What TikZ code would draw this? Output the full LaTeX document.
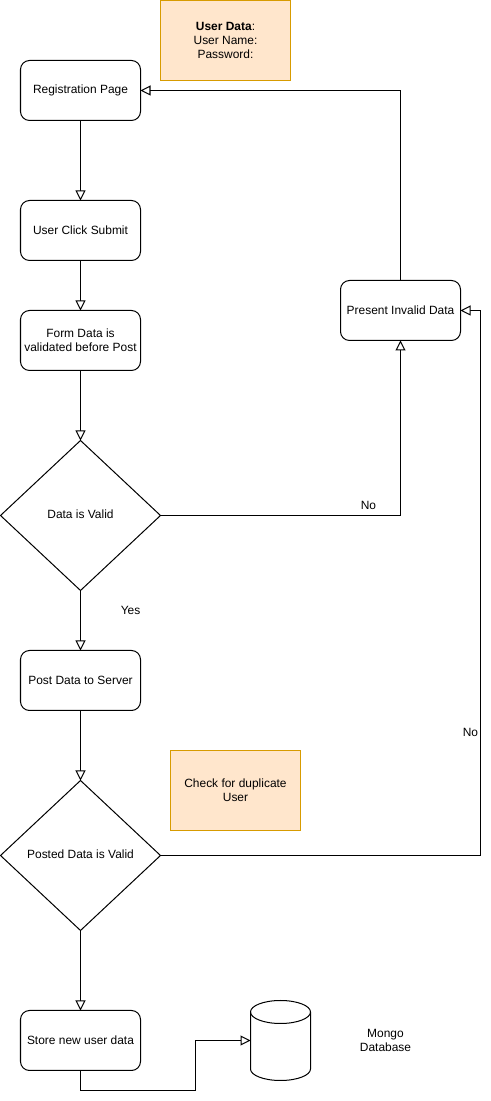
\documentclass[tikz,border=0pt]{standalone}
\usepackage{fontspec}
\setmainfont{Liberation Sans}
\usepackage{tikz}
\usetikzlibrary{shapes.geometric,arrows.meta}
\definecolor{noteFill}{HTML}{FFE6CC}
\definecolor{noteDraw}{HTML}{D79B00}
\tikzstyle{tsText} = [
    text=black,
    font=\fontsize{6.8}{8}\selectfont,
    align=center,
    inner sep=0pt,
    outer sep=0pt
]
\tikzstyle{tsRoundedRectangle} = [
    rectangle,
    tsText,
    draw=black,
    line width=0.57pt,
    rounded corners=0.18cm,
    minimum width=2.4cm,
    minimum height=1.2cm
]
\tikzstyle{tsDiamond} = [
    diamond,
    tsText,
    draw=black,
    line width=0.57pt,
    minimum width=3.2cm,
    minimum height=3cm
]
\tikzstyle{tsNote} = [
    rectangle,
    tsText,
    draw=noteDraw,
    fill=noteFill,
    line width=0.57pt,
    minimum width=2.6cm,
    minimum height=1.6cm
]
\tikzstyle{tsDatabase} = [
    rectangle,
    tsText,
    minimum width=1.2cm,
    minimum height=1.6cm
]
\tikzstyle{tsLine} = [
    line width=0.57pt,
    draw=black
]
\tikzstyle{tsArrow} = [
    tsLine,
    -{Triangle[open,fill=white,length=0.2cm,width=0.2cm]}
]

\begin{document}
\begin{tikzpicture}
        \useasboundingbox (-0.01,0.01) rectangle (9.81,22.03);

        % Main flow
        \node[tsRoundedRectangle] (reg) at (1.6,20.22) {Registration Page};
        \node[tsRoundedRectangle] (submit) at (1.6,17.42) {User Click Submit};
        \node[tsRoundedRectangle] (form) at (1.6,15.22) {Form Data is\\validated before Post};
        \node[tsDiamond] (valid) at (1.6,11.72) {\raisebox{1pt}{Data is Valid}};
        \node[tsRoundedRectangle] (post) at (1.6,8.42) {Post Data to Server};
        \node[tsDiamond] (posted) at (1.6,4.92) {\raisebox{1pt}{Posted Data is Valid}};
        \node[tsRoundedRectangle] (store) at (1.6,1.22) {Store new user data};
        \node[tsRoundedRectangle] (invalid) at (8,15.82) {Present Invalid Data};

        % Notes
        \node[tsNote] (userdata) at (4.5,21.22) {\textbf{User Data}:\\User Name:\\Password:};
        \node[tsNote] (duplicate) at (4.7,6.22) {Check for duplicate\\User};

        % Database
        \node[tsDatabase] (db) at (5.6,1.22) {};
        \draw[tsLine] ([yshift=-0.23cm]db.north west)
            arc[start angle=180,end angle=0,x radius=0.6,y radius=0.23]
            -- ([yshift=0.23cm]db.south east)
            arc[start angle=0,end angle=-180,x radius=0.6,y radius=0.23]
            -- cycle;
        \draw[tsLine] ([yshift=-0.23cm]db.north west)
            arc[start angle=180,end angle=360,x radius=0.6,y radius=0.23];
        \node[tsText] (mongo) at (7.7,1.22) {Mongo\\Database};

        % Bend points
        \coordinate (rightbus) at (9.6,4.92);
        \coordinate (dbjoin) at (3.9,0.22);

        % Arrows down the main flow
        \draw[tsArrow] (reg.south) -- (submit.north);
        \draw[tsArrow] (submit.south) -- (form.north);
        \draw[tsArrow] (form.south) -- (valid.north);
        \draw[tsArrow] (valid.south) -- (post.north);
        \draw[tsArrow] (post.south) -- (posted.north);
        \draw[tsArrow] (posted.south) -- (store.north);

        % Arrows back to the start
        \draw[tsArrow] (valid.east) -| (invalid.south);
        \draw[tsArrow] (invalid.north) |- (reg.east);
        \draw[tsArrow] (posted.east) -- (rightbus) |- (invalid.east);

        % Arrow to the database
        \draw[tsArrow] (store.south) |- (dbjoin) |- (db.west);

        % Labels
        \node[tsText] (no1) at (7.36,11.92) {No};
        \node[tsText] (yes) at (2.6,9.82) {Yes};
        \node[tsText] (no2) at (9.4,7.38) {No};

\end{tikzpicture}
\end{document}
